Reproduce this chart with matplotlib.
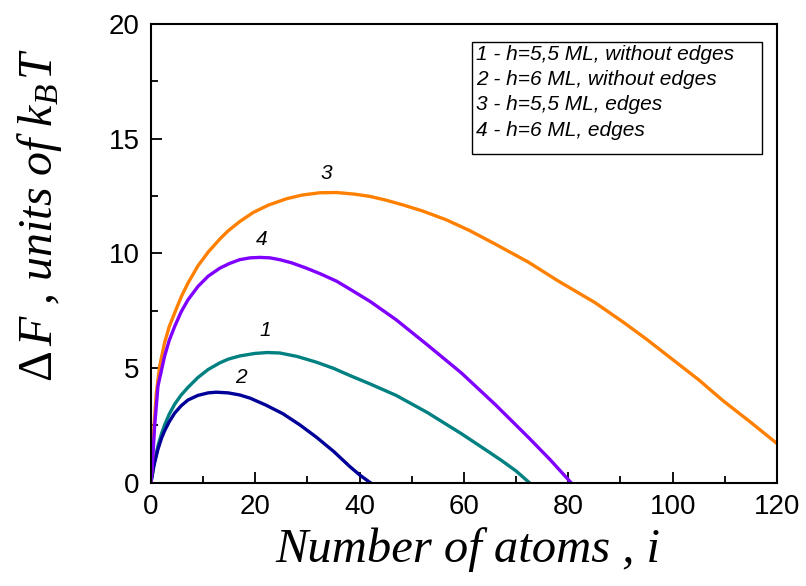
import matplotlib.pyplot as plt
from matplotlib.patches import Rectangle
from matplotlib.ticker import MultipleLocator

plt.rcParams['mathtext.fontset'] = 'custom'
plt.rcParams['mathtext.rm'] = 'Liberation Serif'
plt.rcParams['mathtext.it'] = 'Liberation Serif:italic'

# curve 1 - h=5,5 ML, without edges
x1 = [0, 0.58, 1.34, 2.05, 2.6, 3.5, 4.55, 5.8, 7.1, 9, 10.96, 13.2, 14.8, 17, 19.9, 22.3, 24.7, 28,
      31.7, 35, 38.1, 42, 47, 53, 59.5, 64, 67.2, 70, 72.5]
y1 = [0, 0.8, 1.6, 2.15, 2.5, 2.98, 3.42, 3.82, 4.15, 4.58, 4.93, 5.22, 5.38, 5.52, 5.63, 5.67, 5.65, 5.5,
      5.25, 4.98, 4.67, 4.3, 3.8, 3.05, 2.13, 1.45, 0.96, 0.5, 0]
# curve 2 - h=6 ML, without edges
x2 = [0, 0.58, 1.34, 2.05, 2.6, 3.5, 4.55, 5.8, 7.1, 9, 10.96, 12.5, 14.8, 17, 19.0, 22, 25.3, 28.5,
      31.7, 35, 38.1, 40, 42]
y2 = [0, 0.75, 1.45, 1.95, 2.25, 2.65, 3.03, 3.35, 3.6, 3.8, 3.91, 3.94, 3.91, 3.82, 3.68, 3.38, 3.0, 2.52,
      1.98, 1.36, 0.7, 0.33, 0]
# curve 3 - h=5,5 ML, edges
x3 = [0, 0.2, 0.58, 1.03, 1.66, 2.6, 3.5, 4.55, 5.8, 7.1, 9, 10.96, 13.2, 14.8, 17, 19.6, 22.5,
      26.0, 29, 32.4, 35.6, 39, 42, 45, 48.3, 52, 56.6, 61, 66, 72.3, 78, 85.1, 90.5, 95, 99.8,
      105, 109.6, 115, 120]
y3 = [0, 0.7, 2.45, 3.9, 5.07, 6.09, 6.8, 7.4, 8.1, 8.7, 9.45, 10.05, 10.62, 10.98, 11.38, 11.78, 12.1,
      12.38, 12.54, 12.64, 12.65, 12.58, 12.48, 12.32, 12.11, 11.85, 11.46, 11.0, 10.4, 9.62, 8.8,
      7.85, 7.0, 6.25, 5.4, 4.48, 3.58, 2.62, 1.7]
# curve 4 - h=6 ML, edges
x4 = [0, 0.25, 0.7, 1.34, 2.6, 3.5, 4.55, 5.8, 7.1, 9, 10.96, 13.2, 15, 17, 19, 20.9, 22.8, 24.7,
      27, 29.8, 32.5, 35.6, 38.1, 42, 47, 53, 59.5, 66, 72.3, 76.5, 80.5]
y4 = [0, 0.7, 2.45, 4.2, 5.5, 6.2, 6.81, 7.45, 7.97, 8.55, 9.0, 9.35, 9.55, 9.72, 9.8, 9.82, 9.8, 9.72,
      9.58, 9.35, 9.1, 8.78, 8.44, 7.9, 7.1, 6.0, 4.78, 3.4, 1.98, 1.0, 0]

legend_lines = ['1 - h=5,5 ML, without edges',
                '2 - h=6 ML, without edges',
                '3 - h=5,5 ML, edges',
                '4 - h=6 ML, edges']

fig = plt.figure(figsize=(8.06, 5.86), dpi=100)
ax = fig.add_axes([0.1873, 0.1766, 0.7767, 0.7824])

ax.plot(x1, y1, color='#008080', lw=2.4)
ax.plot(x2, y2, color='#000099', lw=2.4)
ax.plot(x3, y3, color='#FF8000', lw=2.4)
ax.plot(x4, y4, color='#8000FF', lw=2.4)

# curve numbers above the maxima
for txt, (tx, ty) in zip(['1', '2', '3', '4'], [(22.0, 6.64), (17.2, 4.59), (33.7, 13.5), (21.2, 10.6)]):
    ax.text(tx, ty, txt, fontsize=15, style='italic', family='Liberation Sans',
            ha='center', va='center')

ax.set_xlim(0, 120)
ax.set_ylim(0, 20)
ax.xaxis.set_major_locator(MultipleLocator(20))
ax.xaxis.set_minor_locator(MultipleLocator(10))
ax.yaxis.set_major_locator(MultipleLocator(5))
ax.yaxis.set_minor_locator(MultipleLocator(2.5))
ax.tick_params(which='both', direction='in', width=1.3)
ax.tick_params(which='major', length=8, labelsize=20, pad=8)
ax.tick_params(which='minor', length=5)
for lab in ax.get_xticklabels() + ax.get_yticklabels():
    lab.set_family('Liberation Sans')
for sp in ax.spines.values():
    sp.set_linewidth(1.5)

ax.set_xlabel('Number of atoms , i', family='Liberation Serif', style='italic', fontsize=35)
ax.xaxis.set_label_coords(0.506, -0.098)
ax.set_ylabel(r'$\Delta\, F$ , units of $k_{B\,}T$', family='Liberation Serif', style='italic',
              fontsize=34.5)
ax.yaxis.set_label_coords(-0.139, 0.583)

# legend box with the curve descriptions
ax.add_patch(Rectangle((0.5133, 0.7165), 0.4627, 0.2449, transform=ax.transAxes,
                       fc='white', ec='black', lw=1.0, zorder=3))
for line, ly in zip(legend_lines, [0.934, 0.879, 0.824, 0.767]):
    ax.text(0.519, ly, line, transform=ax.transAxes, fontsize=15, style='italic',
            family='Liberation Sans', va='center', ha='left', zorder=4)

fig.savefig('out.png', dpi=100)
